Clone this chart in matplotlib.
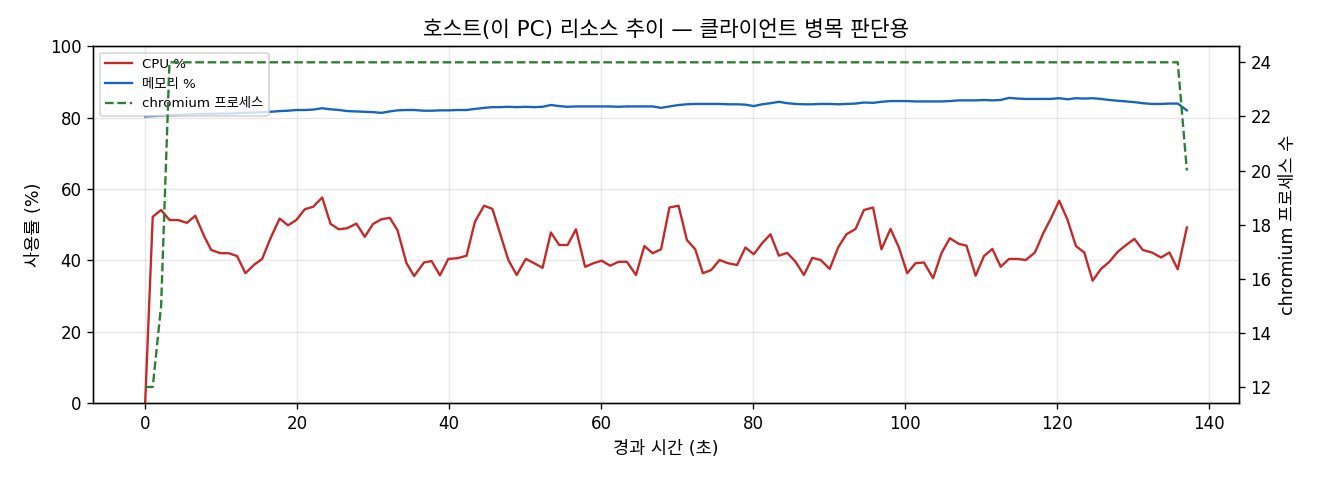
import matplotlib.pyplot as plt

plt.rcParams['font.family'] = ['DejaVu Sans', 'Noto Sans CJK KR']

# 경과 시간 (초)
t = [0.0, 1.0, 2.1, 3.2, 4.3, 5.5, 6.6, 7.8, 8.7, 9.9, 11.0, 12.1, 13.2, 14.3, 15.4,
     16.5, 17.7, 18.8, 19.9, 21.0, 22.1, 23.3, 24.4, 25.5, 26.6, 27.8, 28.9, 30.0,
     31.1, 32.2, 33.2, 34.4, 35.4, 36.7, 37.7, 38.8, 39.9, 41.1, 42.3, 43.4, 44.6,
     45.7, 46.7, 47.8, 48.9, 50.1, 51.2, 52.3, 53.4, 54.5, 55.6, 56.7, 57.9, 59.0,
     60.1, 61.2, 62.3, 63.4, 64.6, 65.7, 66.8, 67.9, 69.0, 70.2, 71.3, 72.4, 73.4,
     74.5, 75.6, 76.7, 77.9, 79.0, 80.1, 81.2, 82.3, 83.4, 84.5, 85.6, 86.7, 87.8,
     88.9, 90.1, 91.2, 92.3, 93.5, 94.6, 95.8, 96.9, 98.1, 99.2, 100.3, 101.4, 102.5,
     103.7, 104.8, 105.9, 107.1, 108.1, 109.3, 110.4, 111.5, 112.6, 113.7, 114.8,
     115.9, 117.1, 118.2, 119.2, 120.3, 121.4, 122.5, 123.6, 124.7, 125.8, 126.9,
     128.0, 129.1, 130.2, 131.3, 132.5, 133.7, 134.8, 135.9, 137.1]

cpu = [0, 52.2, 54.1, 51.3, 51.3, 50.5, 52.5, 46.6, 42.9, 42.0, 42.0, 41.2, 36.4, 38.7,
       40.4, 46.2, 51.7, 49.8, 51.3, 54.3, 55.0, 57.6, 50.2, 48.7, 49.0, 50.3, 46.6,
       50.2, 51.5, 51.9, 48.5, 39.2, 35.6, 39.4, 39.8, 35.8, 40.4, 40.6, 41.3, 50.8,
       55.3,
       54.4, 47.6, 40.1, 35.9, 40.4, 39.2, 37.9, 47.8, 44.3, 44.3, 48.7, 38.2, 39.2,
       39.9, 38.5, 39.6, 39.6, 35.9, 44.0, 42.0, 43.1, 54.8, 55.3, 45.7, 43.1, 36.4,
       37.3, 40.1, 39.2, 38.7, 43.6, 41.7, 44.8, 47.3, 41.3, 42.1, 39.6, 35.9, 40.7,
       40.1, 37.6, 43.6, 47.3, 48.8, 54.1, 54.8,
       43.1, 48.8, 43.6, 36.4, 39.2, 39.4, 35.0, 42.0, 46.2, 44.6, 44.1, 35.7, 41.2,
       43.2, 38.2, 40.4, 40.4, 40.1, 42.2, 47.6, 51.7, 56.7, 51.3, 44.0, 42.2, 34.3,
       37.6, 39.6, 42.4, 44.3, 46.0, 42.9, 42.2, 40.8, 42.2, 37.5, 49.2]

mem = [80.3, 80.4, 80.5, 80.6, 80.7, 80.8, 80.9, 81.0, 81.0, 81.1, 81.1, 81.2, 81.3,
       81.4, 81.5, 81.6, 81.8, 81.9, 82.1, 82.1, 82.2, 82.6, 82.3, 82.1, 81.8, 81.7,
       81.6, 81.5, 81.3, 81.7, 82.0, 82.1, 82.1, 81.9, 81.9, 82.0, 82.0, 82.1, 82.1,
       82.4, 82.7, 82.9, 82.9, 83.0, 82.9, 83.0, 82.9, 83.0, 83.5, 83.2, 83.0, 83.1,
       83.1, 83.1, 83.1, 83.1, 83.0, 83.1, 83.1, 83.1, 83.1, 82.7, 83.1, 83.5, 83.7,
       83.8, 83.8, 83.8, 83.8, 83.7, 83.7, 83.6, 83.2, 83.7, 84.0, 84.4, 84.0, 83.8,
       83.7, 83.7, 83.8, 83.8, 83.7, 83.8, 83.9, 84.2, 84.1, 84.4, 84.6, 84.6, 84.6,
       84.5, 84.5, 84.5, 84.5, 84.6, 84.8, 84.8, 84.8, 84.9, 84.8, 84.9, 85.5, 85.3,
       85.2, 85.2, 85.2, 85.2, 85.4, 85.1, 85.4, 85.3, 85.4, 85.2, 84.9, 84.7, 84.5,
       84.3, 84.0, 83.8, 83.8, 83.9, 83.9, 82.0]

chromium = [12, 12, 15] + [24] * 120 + [20]

fig, ax = plt.subplots(figsize=(11, 4), dpi=120)
fig.subplots_adjust(left=0.0705, right=0.9386, top=0.904, bottom=0.160)

l1, = ax.plot(t, cpu, color='#c62828', linewidth=1.4, label='CPU %')
l2, = ax.plot(t, mem, color='#1565c0', linewidth=1.4, label='메모리 %')
ax.set_ylim(0, 100)
ax.set_xlabel('경과 시간 (초)', fontsize=10.5)
ax.set_ylabel('사용률 (%)', fontsize=10.5)
ax.grid(alpha=0.3)

ax2 = ax.twinx()
l3, = ax2.plot(t, chromium, color='#2e7d32', linewidth=1.4, linestyle='--',
               label='chromium 프로세스')
ax2.set_ylabel('chromium 프로세스 수', fontsize=10.5)

ax.legend(handles=[l1, l2, l3], loc='upper left', fontsize=8)
ax.set_title('호스트(이 PC) 리소스 추이 — 클라이언트 병목 판단용', fontsize=12.8)

fig.savefig('out.png')
